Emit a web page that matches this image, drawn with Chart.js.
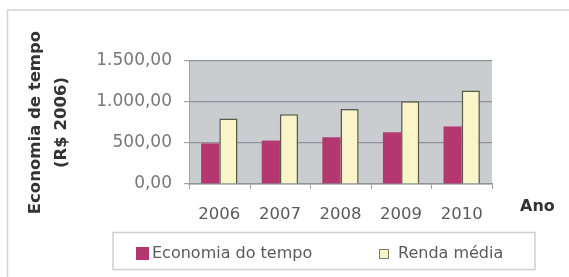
<!DOCTYPE html>
<html>
<head>
<meta charset="utf-8">
<script src="https://cdn.jsdelivr.net/npm/chart.js@4/dist/chart.umd.min.js"></script>
<style>
html,body{margin:0;padding:0;background:#fff;}
#wrap{width:569px;height:277px;position:relative;}
</style>
</head>
<body>
<div id="wrap"><canvas id="c" width="569" height="277"></canvas></div>
<script>
const years = ['2006', '2007', '2008', '2009', '2010'];
const economiaTempo = [495, 530, 570, 630, 700];
const rendaMedia = [800, 850, 915, 1010, 1140];
const yTickValues = [0, 500, 1000, 1500];
const yTickLabels = ['0,00', '500,00', '1.000,00', '1.500,00'];
const seriesNames = ['Economia do tempo', 'Renda média'];
const yTitle = ['Economia de tempo', '(R$ 2006)'];
const xTitle = 'Ano';

const FONT = 'DejaVu Sans';

const framePlugin = {
  id: 'frame',
  beforeDraw(chart) {
    const ctx = chart.ctx, a = chart.chartArea;
    ctx.save();
    ctx.fillStyle = '#ffffff';
    ctx.fillRect(0, 0, chart.width, chart.height);
    ctx.strokeStyle = '#d4d4d4';
    ctx.lineWidth = 1.5;
    ctx.beginPath();
    ctx.moveTo(7.5, chart.height);
    ctx.lineTo(7.5, 10);
    ctx.lineTo(chart.width, 10);
    ctx.stroke();
    ctx.fillStyle = '#c9cdd0';
    ctx.fillRect(a.left, a.top, a.right - a.left, a.bottom - a.top);
    ctx.restore();
  },
  afterDraw(chart) {
    const ctx = chart.ctx, a = chart.chartArea, xs = chart.scales.x;
    ctx.save();
    ctx.strokeStyle = '#9ea4a7';
    ctx.lineWidth = 1;
    ctx.beginPath();
    ctx.moveTo(Math.round(a.left) + 0.5, a.top);
    ctx.lineTo(Math.round(a.left) + 0.5, a.bottom);
    for (let i = 0; i <= years.length; i++) {
      const px = Math.round(xs.getPixelForValue(i - 0.5)) + 0.5;
      ctx.moveTo(px, a.bottom);
      ctx.lineTo(px, a.bottom + 5);
    }
    ctx.stroke();
    ctx.font = 'bold 16px "' + FONT + '"';
    ctx.fillStyle = '#333333';
    ctx.textAlign = 'left';
    ctx.textBaseline = 'middle';
    ctx.fillText(xTitle, a.right + 28, 207);
    ctx.strokeStyle = '#cfcfcf';
    ctx.lineWidth = 1.5;
    ctx.strokeRect(113, 232.5, 422, 37);
    const items = [
      {sx: 136, sy: 247, s: 13, tx: 152},
      {sx: 379, sy: 249, s: 10, tx: 398}
    ];
    ctx.font = '16px "' + FONT + '"';
    ctx.textBaseline = 'middle';
    chart.data.datasets.forEach((ds, i) => {
      const it = items[i];
      ctx.fillStyle = ds.backgroundColor;
      ctx.fillRect(it.sx, it.sy, it.s, it.s);
      if (ds.borderWidth) {
        ctx.strokeStyle = '#7a7a66';
        ctx.lineWidth = 1;
        ctx.strokeRect(it.sx + 0.5, it.sy + 0.5, it.s - 1, it.s - 1);
      }
      ctx.fillStyle = '#5a5a5a';
      ctx.fillText(ds.label, it.tx, 254);
    });
    ctx.restore();
  }
};

new Chart(document.getElementById('c'), {
  type: 'bar',
  data: {
    labels: years,
    datasets: [
      {
        label: seriesNames[0],
        data: economiaTempo,
        backgroundColor: '#b4376f',
        borderWidth: 0
      },
      {
        label: seriesNames[1],
        data: rendaMedia,
        backgroundColor: '#faf5c8',
        borderColor: '#5a5a4a',
        borderWidth: 1.5
      }
    ]
  },
  options: {
    responsive: false,
    animation: false,
    devicePixelRatio: 1,
    layout: {padding: {left: 8, right: 77, top: 61, bottom: 0}},
    plugins: {legend: {display: false}, tooltip: {enabled: false}},
    datasets: {bar: {categoryPercentage: 0.6, barPercentage: 1.0}},
    scales: {
      x: {
        afterFit(s) { s.height = 93; },
        grid: {display: false},
        border: {color: '#8e9598', width: 1.5},
        ticks: {color: '#5a5a5a', font: {family: FONT, size: 16.5}, padding: 13}
      },
      y: {
        afterFit(s) { s.width = 181; },
        min: 0,
        max: 1500,
        afterBuildTicks(s) { s.ticks = yTickValues.map(v => ({value: v})); },
        grid: {color: '#8e9598', lineWidth: 1.2, tickLength: 5, tickColor: '#a0a6a9'},
        border: {display: false},
        ticks: {
          color: '#777777',
          font: {family: FONT, size: 17},
          padding: 12,
          callback(v) { const i = yTickValues.indexOf(v); return i >= 0 ? yTickLabels[i] : ''; }
        },
        title: {
          display: true,
          text: yTitle,
          color: '#333333',
          font: {family: FONT, size: 16.5, weight: 'bold', lineHeight: 1.62},
          padding: {top: 14, bottom: 0}
        }
      }
    }
  },
  plugins: [framePlugin]
});
</script>
</body>
</html>
